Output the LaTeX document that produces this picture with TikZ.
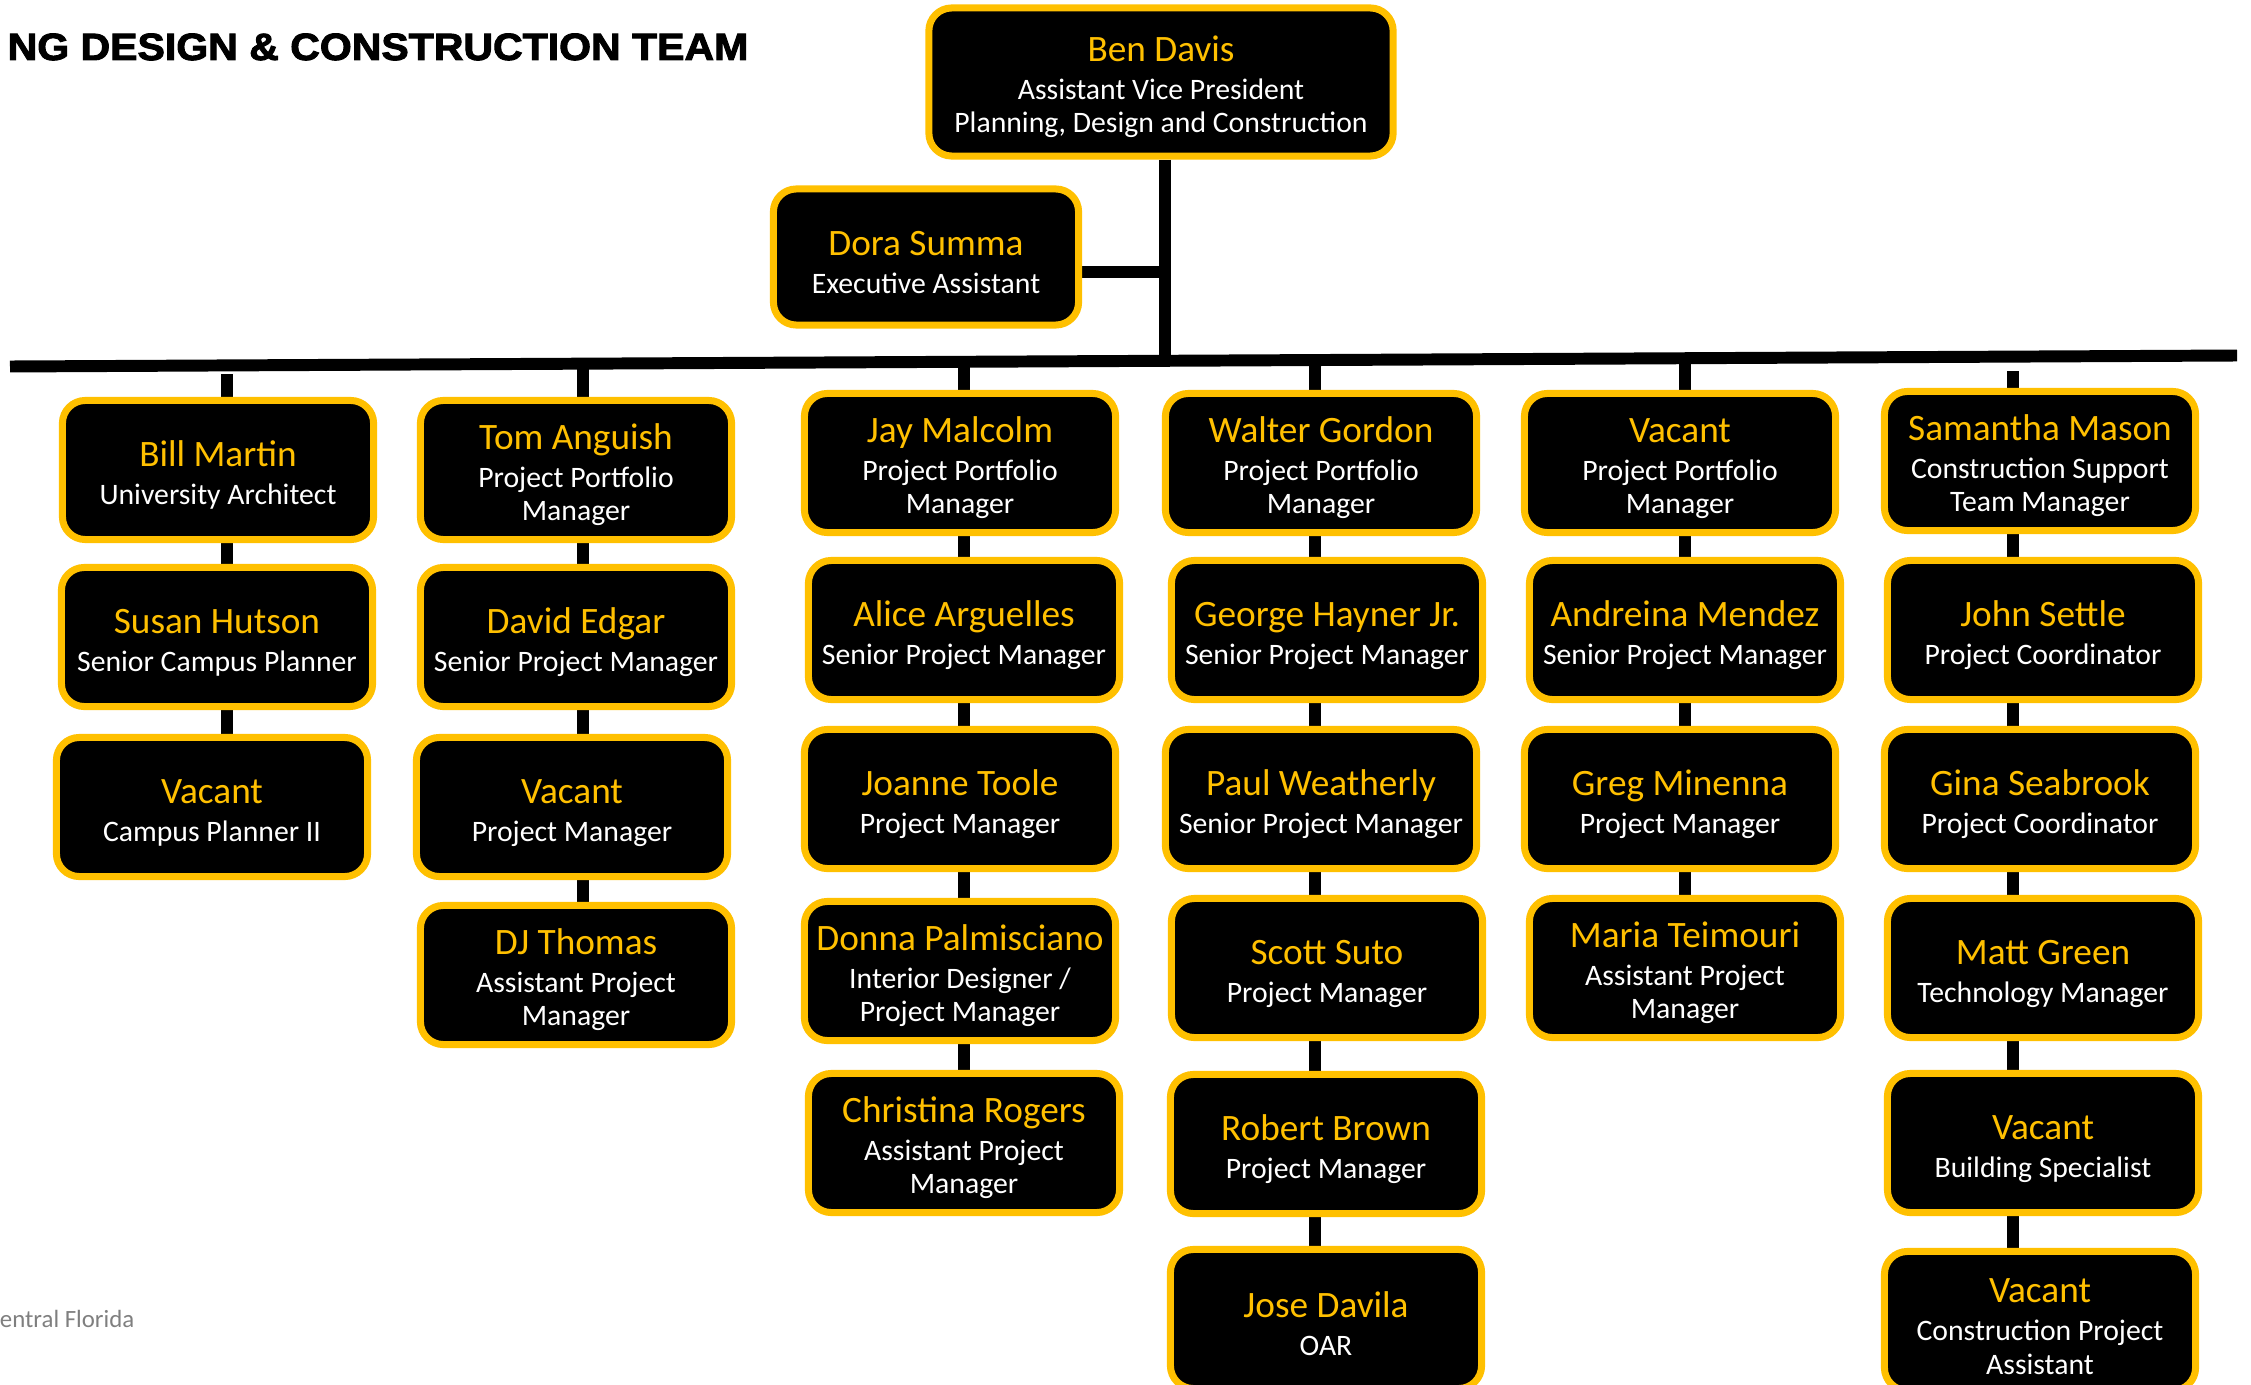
\documentclass[tikz,border=0pt]{standalone}
\usepackage{fontspec}
\setmainfont{Carlito}
\newfontfamily\titlefont[FakeStretch=1.08, FakeBold=2.5]{Liberation Sans}
\usetikzlibrary{backgrounds}

\definecolor{gold}{HTML}{FFC000}
\definecolor{footgray}{HTML}{7F7F7F}

% name line of a box, in gold
\newcommand{\pname}[1]{{\fontsize{10.6}{12}\selectfont\color{gold}\rule{0pt}{10pt}#1}\\[1.2pt]}

\tikzset{
  person/.style={draw=gold, fill=black, text=white, line width=2pt,
    rounded corners=6.5pt, minimum width=3.11cm, minimum height=1.39cm,
    inner sep=0pt, align=center, font=\fontsize{8.45}{9.6}\selectfont},
  link/.style={line width=3.4pt, black},
}

\begin{document}
\begin{tikzpicture}[x=0.01cm, y=-0.01cm]
  \useasboundingbox (0,0) rectangle (2251,1385);

  \node[anchor=base east, inner sep=0pt, font=\titlefont\fontsize{10.8}{13}\selectfont\bfseries] (title) at (749,60) {NG DESIGN \& CONSTRUCTION TEAM};
  \node[anchor=base east, inner sep=0pt, text=footgray, font=\fontsize{7.06}{8}\selectfont] (foot) at (135,1327) {entral Florida};

  % top
  \node[person, minimum width=4.64cm, minimum height=1.48cm] (ben) at (1161,82) {\pname{Ben Davis}Assistant Vice President\\Planning, Design and Construction};
  \node[person, minimum width=3.05cm, minimum height=1.36cm] (dora) at (926,257) {\pname{Dora Summa}Executive Assistant};

  % column 1
  \node[person] (bill) at (218,470) {\pname{Bill Martin}University Architect};
  \node[person] (susan) at (217,637) {\pname{Susan Hutson}Senior Campus Planner};
  \node[person] (vacplan) at (212,807) {\pname{Vacant}Campus Planner II};

  % column 2
  \node[person] (tom) at (576,470) {\pname{Tom Anguish}Project Portfolio\\Manager};
  \node[person] (david) at (576,637) {\pname{David Edgar}Senior Project Manager};
  \node[person] (vacpm) at (572,807) {\pname{Vacant}Project Manager};
  \node[person] (dj) at (576,975) {\pname{DJ Thomas}Assistant Project\\Manager};

  % column 3
  \node[person] (jay) at (960,463) {\pname{Jay Malcolm}Project Portfolio\\Manager};
  \node[person] (alice) at (964,630) {\pname{Alice Arguelles}Senior Project Manager};
  \node[person] (joanne) at (960,799) {\pname{Joanne Toole}Project Manager};
  \node[person] (donna) at (960,971) {\pname{Donna Palmisciano}Interior Designer /\\Project Manager};
  \node[person] (christina) at (964,1143) {\pname{Christina Rogers}Assistant Project\\Manager};

  % column 4
  \node[person] (walter) at (1321,463) {\pname{Walter Gordon}Project Portfolio\\Manager};
  \node[person] (george) at (1327,630) {\pname{George Hayner Jr.}Senior Project Manager};
  \node[person] (paul) at (1321,799) {\pname{Paul Weatherly}Senior Project Manager};
  \node[person] (scott) at (1327,968) {\pname{Scott Suto}Project Manager};
  \node[person] (robert) at (1326,1144) {\pname{Robert Brown}Project Manager};
  \node[person] (jose) at (1326,1319) {\pname{Jose Davila}OAR};

  % column 5
  \node[person] (vacppm) at (1680,463) {\pname{Vacant}Project Portfolio\\Manager};
  \node[person] (andreina) at (1685,630) {\pname{Andreina Mendez}Senior Project Manager};
  \node[person] (greg) at (1680,799) {\pname{Greg Minenna}Project Manager};
  \node[person] (maria) at (1685,968) {\pname{Maria Teimouri}Assistant Project\\Manager};

  % column 6
  \node[person] (samantha) at (2040,461) {\pname{Samantha Mason}Construction Support\\Team Manager};
  \node[person] (john) at (2043,630) {\pname{John Settle}Project Coordinator};
  \node[person] (gina) at (2040,799) {\pname{Gina Seabrook}Project Coordinator};
  \node[person] (matt) at (2043,968) {\pname{Matt Green}Technology Manager};
  \node[person] (vacbs) at (2043,1143) {\pname{Vacant}Building Specialist};
  \node[person] (vaccpa) at (2040,1321) {\pname{Vacant}Construction Project\\Assistant};

  % bus and drops
  \coordinate (busL) at (10,366.5);
  \coordinate (busR) at (2237,355.5);
  \coordinate (busmid) at (1165,361);
  \coordinate (hub) at (1165,272);
  \coordinate (t1) at (227,374);
  \coordinate (t2) at (583,363.7);
  \coordinate (t3) at (964,361.8);
  \coordinate (t4) at (1315,360);
  \coordinate (t5) at (1685,358.2);
  \coordinate (t6) at (2013,371);

  \begin{scope}[on background layer]
    \draw[link] (busL) -- (busR);
    \draw[link] (ben.south -| hub) -- (busmid);
    \draw[link] (dora.east |- hub) -- (hub);
    \draw[link] (t1) -- (t1 |- bill.north) (t1 |- bill.south) -- (t1 |- susan.north)
      (t1 |- susan.south) -- (t1 |- vacplan.north);
    \draw[link] (t2) -- (t2 |- tom.north) (t2 |- tom.south) -- (t2 |- david.north)
      (t2 |- david.south) -- (t2 |- vacpm.north) (t2 |- vacpm.south) -- (t2 |- dj.north);
    \draw[link] (t3) -- (t3 |- jay.north) (t3 |- jay.south) -- (t3 |- alice.north)
      (t3 |- alice.south) -- (t3 |- joanne.north) (t3 |- joanne.south) -- (t3 |- donna.north)
      (t3 |- donna.south) -- (t3 |- christina.north);
    \draw[link] (t4) -- (t4 |- walter.north) (t4 |- walter.south) -- (t4 |- george.north)
      (t4 |- george.south) -- (t4 |- paul.north) (t4 |- paul.south) -- (t4 |- scott.north)
      (t4 |- scott.south) -- (t4 |- robert.north) (t4 |- robert.south) -- (t4 |- jose.north);
    \draw[link] (t5) -- (t5 |- vacppm.north) (t5 |- vacppm.south) -- (t5 |- andreina.north)
      (t5 |- andreina.south) -- (t5 |- greg.north) (t5 |- greg.south) -- (t5 |- maria.north);
    \draw[link] (t6) -- (t6 |- samantha.north) (t6 |- samantha.south) -- (t6 |- john.north)
      (t6 |- john.south) -- (t6 |- gina.north) (t6 |- gina.south) -- (t6 |- matt.north)
      (t6 |- matt.south) -- (t6 |- vacbs.north) (t6 |- vacbs.south) -- (t6 |- vaccpa.north);
  \end{scope}
\end{tikzpicture}
\end{document}
